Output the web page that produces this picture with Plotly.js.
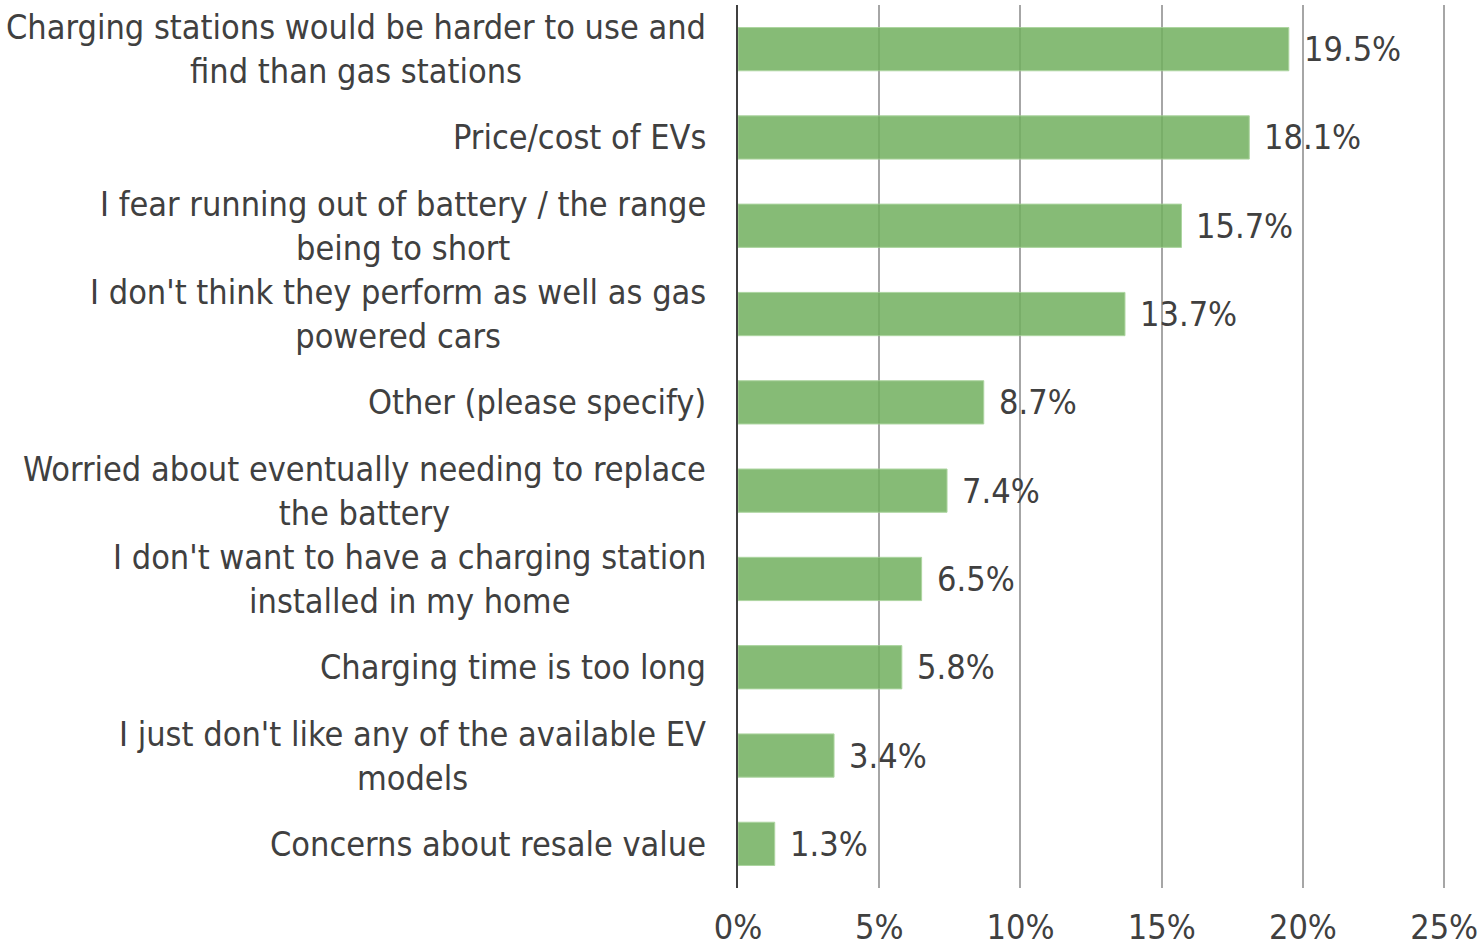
<!DOCTYPE html>
<html>
<head>
<meta charset="utf-8">
<script src="https://cdn.plot.ly/plotly-3.0.1.min.js"></script>
<style>html,body{margin:0;padding:0;background:#fff;}#chart{width:1481px;height:951px;}</style>
</head>
<body>
<div id="chart"></div>
<script>
const categories = [
  "Charging stations would be harder to use and<br>find than gas stations",
  "Price/cost of EVs",
  "I fear running out of battery / the range<br>being to short",
  "I don't think they perform as well as gas<br>powered cars",
  "Other (please specify)",
  "Worried about eventually needing to replace<br>the battery",
  "I don't want to have a charging station<br>installed in my home",
  "Charging time is too long",
  "I just don't like any of the available EV<br>models",
  "Concerns about resale value"
];
const values = [19.5, 18.1, 15.7, 13.7, 8.7, 7.4, 6.5, 5.8, 3.4, 1.3];
const tickVals = [0, 5, 10, 15, 20, 25];
const tickText = ["0%", "5%", "10%", "15%", "20%", "25%"];

const FONT = "'DejaVu Sans Condensed', 'DejaVu Sans', sans-serif";
const TXT = "#404040";
const ids = categories.map((c, i) => "c" + i);

const trace = {
  type: "bar",
  orientation: "h",
  x: values,
  y: ids,
  width: 0.49,
  marker: {color: "#72B05F", opacity: 0.85, line: {color: "#9fce90", width: 1}},
  hoverinfo: "skip"
};

const annotations = [];
categories.forEach((c, i) => {
  annotations.push({
    x: 0, xref: "paper", y: ids[i], yref: "y",
    xanchor: "right", yanchor: "middle", xshift: -30,
    text: c, align: "center", showarrow: false,
    font: {family: FONT, size: 34, color: TXT}
  });
  annotations.push({
    x: values[i], xref: "x", y: ids[i], yref: "y",
    xanchor: "left", yanchor: "middle", xshift: 13,
    text: values[i].toFixed(1) + "%", showarrow: false,
    font: {family: FONT, size: 34, color: TXT}
  });
});

const layout = {
  width: 1481, height: 951,
  margin: {l: 738, r: 34, t: 5, b: 63},
  paper_bgcolor: "#fff", plot_bgcolor: "#fff",
  showlegend: false,
  font: {family: FONT, size: 34, color: TXT},
  xaxis: {
    range: [0, 25.1], tickvals: tickVals, ticktext: tickText,
    showgrid: true, gridcolor: "#A6A6A6", gridwidth: 2,
    zeroline: false, showline: false, ticks: "",
    ticklabelstandoff: 16,
    tickfont: {family: FONT, size: 34, color: TXT}, fixedrange: true
  },
  yaxis: {
    type: "category", autorange: "reversed",
    showticklabels: false, showgrid: false, zeroline: false,
    showline: true, linecolor: "#404040", linewidth: 2, ticks: "", fixedrange: true
  },
  annotations: annotations,
  bargap: 0.51
};

Plotly.newPlot("chart", [trace], layout, {displayModeBar: false, staticPlot: true});
</script>
</body>
</html>
